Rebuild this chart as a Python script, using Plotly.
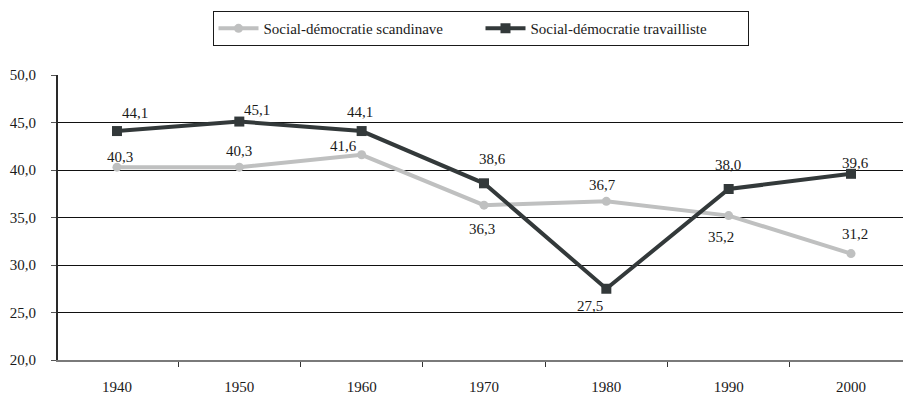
import plotly.graph_objects as go

# Decades on the horizontal axis
years = [1940, 1950, 1960, 1970, 1980, 1990, 2000]

# Vote shares (%)
scandinave = [40.3, 40.3, 41.6, 36.3, 36.7, 35.2, 31.2]
travailliste = [44.1, 45.1, 44.1, 38.6, 27.5, 38.0, 39.6]

series_names = ["Social-démocratie scandinave", "Social-démocratie travailliste"]

y_ticks = [20, 25, 30, 35, 40, 45, 50]
y_tick_labels = ["20,0", "25,0", "30,0", "35,0", "40,0", "45,0", "50,0"]
x_tick_labels = ["1940", "1950", "1960", "1970", "1980", "1990", "2000"]

# Pixel offsets of each value label relative to its point
scand_offsets = [(3, -10), (0, -16), (-18, -9), (-2, 24), (-4, -16), (-8, 21), (4, -20)]
trav_offsets = [(18, -18), (18, -12), (-2, -19), (9, -24), (-16, 17), (-1, -24), (4, -11)]

FONT = "Liberation Serif"
LIGHT = "#bfc0c0"
DARK = "#33393a"

fig = go.Figure()
fig.add_trace(go.Scatter(
    x=years, y=scandinave, name=series_names[0], mode="lines+markers",
    line=dict(color=LIGHT, width=4),
    marker=dict(symbol="circle", size=9, color=LIGHT),
))
fig.add_trace(go.Scatter(
    x=years, y=travailliste, name=series_names[1], mode="lines+markers",
    line=dict(color=DARK, width=4),
    marker=dict(symbol="square", size=10, color=DARK),
))


def fmt(v):
    return f"{v:.1f}".replace(".", ",")


for vals, offs in ((scandinave, scand_offsets), (travailliste, trav_offsets)):
    for x, v, (dx, dy) in zip(years, vals, offs):
        fig.add_annotation(
            x=x, y=v, text=fmt(v), showarrow=False,
            xshift=dx, yshift=-dy,
            font=dict(family=FONT, size=15, color="#1a1a1a"),
        )

boundaries = [(a + b) / 2 for a, b in zip(years[:-1], years[1:])]

fig.update_layout(
    width=903, height=395,
    margin=dict(l=58, r=0, t=75, b=31),
    paper_bgcolor="white", plot_bgcolor="white",
    font=dict(family=FONT, size=15, color="#1a1a1a"),
    showlegend=True,
    legend=dict(
        orientation="h", x=0.5, xanchor="center",
        yref="container", y=0.972, yanchor="top",
        bordercolor="#1a1a1a", borderwidth=1, bgcolor="white",
        font=dict(family=FONT, size=15, color="#1a1a1a"),
        itemwidth=40,
        entrywidth=212, entrywidthmode="pixels",
    ),
    xaxis=dict(
        range=[1935.18, 2004.25],
        tickmode="array", tickvals=years, ticktext=x_tick_labels,
        ticks="", showgrid=False, zeroline=False,
        showline=True, linecolor="#7a7a7a", linewidth=2,
        ticklabelstandoff=12,
        minor=dict(tickvals=boundaries, ticks="outside", ticklen=5,
                   tickcolor="#333", tickwidth=1, showgrid=False),
    ),
    yaxis=dict(
        range=[20, 50],
        tickmode="array", tickvals=y_ticks, ticktext=y_tick_labels,
        ticks="outside", ticklen=5, tickcolor="#555", tickwidth=1,
        showgrid=True, gridcolor="#111", gridwidth=1,
        zeroline=False,
        showline=True, linecolor="#2a2a2a", linewidth=2,
        ticklabelstandoff=12,
    ),
)

fig.write_html("out.html")
